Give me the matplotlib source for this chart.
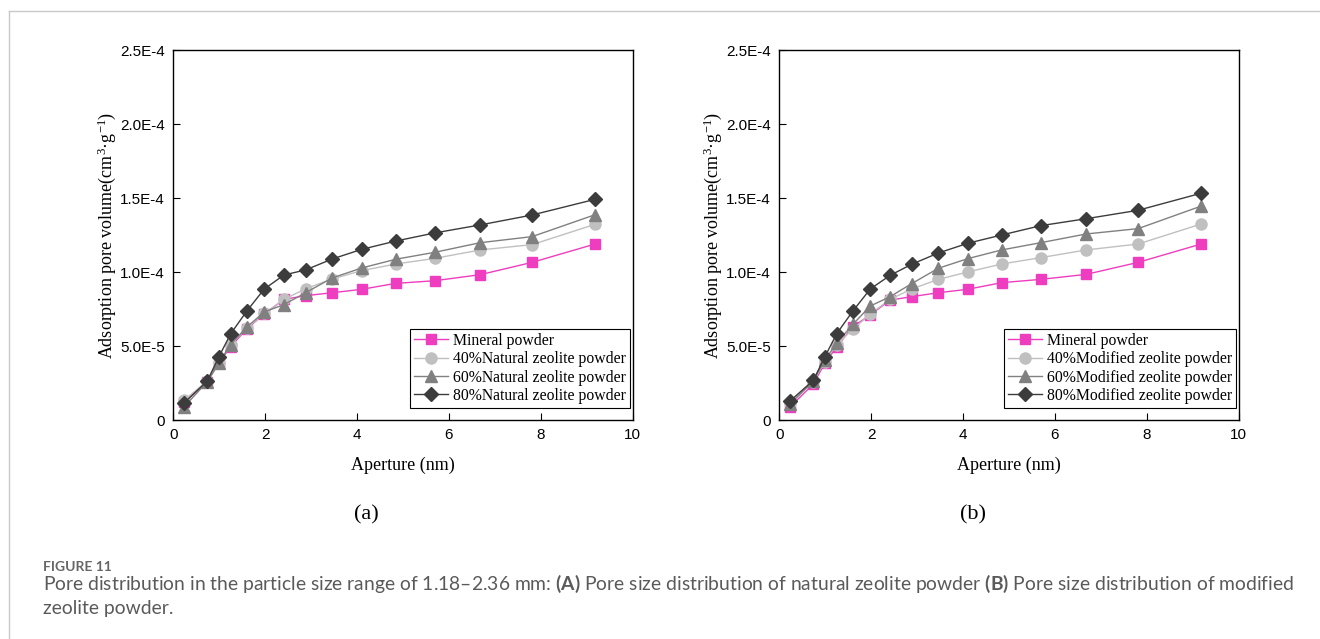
import matplotlib
matplotlib.use("Agg")
import matplotlib.pyplot as plt
from matplotlib.lines import Line2D

plt.rcParams["mathtext.fontset"] = "custom"
plt.rcParams["mathtext.rm"] = "Liberation Serif"
plt.rcParams["mathtext.it"] = "Liberation Serif:italic"
plt.rcParams["mathtext.bf"] = "Lato:bold"

# aperture (nm), same for both panels
aperture = [0.24, 0.74, 0.99, 1.25, 1.60, 1.98, 2.41, 2.88, 3.46, 4.10, 4.84, 5.69, 6.68, 7.81, 9.18]

# pore volume, in units of 1E-5 cm3/g
mineral_a = [1.20, 2.57, 3.87, 4.95, 6.17, 7.16, 8.15, 8.40, 8.60, 8.83, 9.23, 9.41, 9.82, 10.65, 11.89]
natural40 = [1.35, 2.64, 3.87, 5.10, 6.20, 7.20, 8.15, 8.87, 9.53, 10.09, 10.54, 10.92, 11.49, 11.85, 13.22]
natural60 = [0.90, 2.60, 3.83, 5.10, 6.28, 7.30, 7.80, 8.60, 9.60, 10.27, 10.86, 11.33, 11.98, 12.39, 13.87]
natural80 = [1.17, 2.64, 4.26, 5.83, 7.36, 8.85, 9.80, 10.14, 10.88, 11.53, 12.09, 12.64, 13.18, 13.85, 14.91]

mineral_b = [0.90, 2.43, 3.83, 4.95, 6.30, 7.10, 8.10, 8.33, 8.60, 8.83, 9.28, 9.50, 9.84, 10.65, 11.89]
modified40 = [1.17, 2.60, 3.94, 5.10, 6.13, 7.16, 8.15, 8.85, 9.50, 10.00, 10.54, 10.97, 11.49, 11.89, 13.24]
modified60 = [1.08, 2.64, 4.05, 5.20, 6.46, 7.70, 8.33, 9.21, 10.25, 10.90, 11.49, 11.98, 12.57, 12.93, 14.45]
modified80 = [1.30, 2.68, 4.26, 5.83, 7.36, 8.85, 9.77, 10.52, 11.28, 11.94, 12.50, 13.13, 13.60, 14.17, 15.32]

labels_a = ["Mineral powder", "40%Natural zeolite powder",
            "60%Natural zeolite powder", "80%Natural zeolite powder"]
labels_b = ["Mineral powder", "40%Modified zeolite powder",
            "60%Modified zeolite powder", "80%Modified zeolite powder"]

x_ticks = [0, 2, 4, 6, 8, 10]
y_ticks = [0, 5e-5, 1e-4, 1.5e-4, 2e-4, 2.5e-4]
y_tick_labels = ["0", "5.0E-5", "1.0E-4", "1.5E-4", "2.0E-4", "2.5E-4"]

styles = [
    dict(color="#ee3dbe", marker="s", markersize=7.5),
    dict(color="#c0c0c0", marker="o", markersize=8),
    dict(color="#808080", marker="^", markersize=8.5),
    dict(color="#3c3c3c", marker="D", markersize=7),
]

fig = plt.figure(figsize=(13.2, 6.39), dpi=100)
W, H = 1320, 639


def draw_panel(ax, series, labels):
    for vals, lab, st in zip(series, labels, styles):
        ax.plot(aperture, [v * 1e-5 for v in vals], lw=1.0, label=lab, **st)
    ax.set_xlim(0, 10)
    ax.set_ylim(0, 2.5e-4)
    ax.set_xticks(x_ticks)
    ax.set_yticks(y_ticks)
    ax.set_yticklabels(y_tick_labels)
    ax.tick_params(direction="in", length=5, width=0.8, labelsize=11,
                   labelfontfamily="Liberation Sans", pad=6)
    for sp in ax.spines.values():
        sp.set_linewidth(1.0)
    ax.set_xlabel("Aperture (nm)", family="Liberation Serif", fontsize=13)
    ax.set_ylabel("Adsorption pore volume(cm$^{3}$·g$^{-1}$)",
                  family="Liberation Serif", fontsize=13)
    ax.xaxis.set_label_coords(0.5, -0.1)
    ax.yaxis.set_label_coords(-0.12, 0.5)
    leg = ax.legend(loc="lower right", bbox_to_anchor=(0.994, 0.033),
                    borderaxespad=0, prop=dict(family="Liberation Serif", size=11.3),
                    fancybox=False, edgecolor="black", framealpha=1,
                    handlelength=2.2, labelspacing=0.15, borderpad=0.25,
                    handletextpad=0.3)
    leg.get_frame().set_linewidth(0.8)


ax_a = fig.add_axes([173.3 / W, 1 - 420 / H, 459.4 / W, 370 / H])
draw_panel(ax_a, [mineral_a, natural40, natural60, natural80], labels_a)
ax_b = fig.add_axes([779.3 / W, 1 - 420 / H, 459.4 / W, 370 / H])
draw_panel(ax_b, [mineral_b, modified40, modified60, modified80], labels_b)

fig.text(366.7 / W, 1 - 515 / H, "(a)", family="Liberation Serif", fontsize=16,
         ha="center", va="center")
fig.text(972.7 / W, 1 - 515 / H, "(b)", family="Liberation Serif", fontsize=16,
         ha="center", va="center")

# frame lines around the figure block
fig.add_artist(Line2D([9 / W, 1], [1 - 11 / H, 1 - 11 / H], color="#c8c8c8", lw=1.0))
fig.add_artist(Line2D([9 / W, 9 / W], [0, 1 - 11 / H], color="#c8c8c8", lw=1.0))

# caption
cap_color = "#5a5a5a"
fig.text(43 / W, 1 - 571 / H, "FIGURE 11", family="Lato", fontweight="bold",
         fontsize=10, color="#666666", va="baseline")
fig.text(43 / W, 1 - 590 / H,
         "Pore distribution in the particle size range of 1.18–2.36 mm: $\\mathbf{(A)}$ "
         "Pore size distribution of natural zeolite powder $\\mathbf{(B)}$ Pore size "
         "distribution of modified",
         family="Lato", fontsize=13.9, color=cap_color, va="baseline")
fig.text(43 / W, 1 - 614 / H, "zeolite powder.", family="Lato", fontsize=13.9,
         color=cap_color, va="baseline")

fig.savefig("out.png", dpi=100)
